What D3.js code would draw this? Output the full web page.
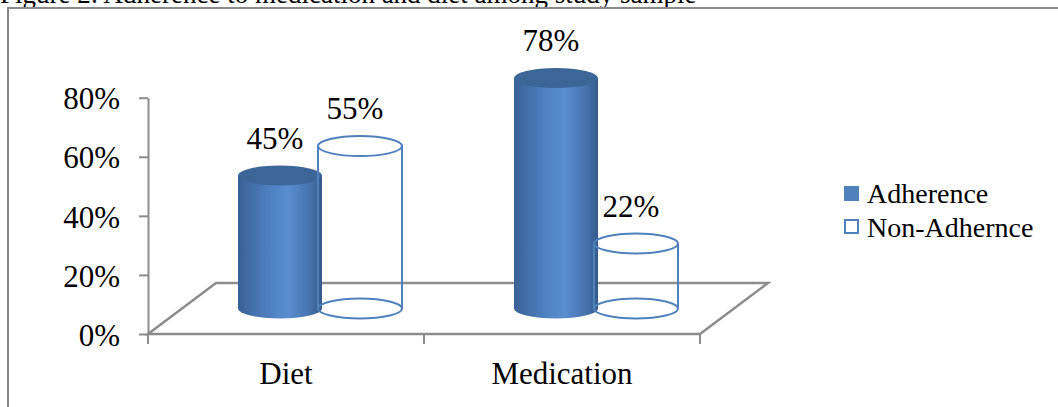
<!DOCTYPE html>
<html><head><meta charset="utf-8">
<script src="https://cdn.jsdelivr.net/npm/d3@7"></script>
<style>
html,body{margin:0;padding:0;background:#fff;overflow:hidden}
svg{display:block}
text{font-family:"Liberation Serif","Times New Roman",serif;fill:#000}
</style></head>
<body>
<svg id="chart" width="1058" height="407"></svg>
<script>
const caption = "Figure 2: Adherence to medication and diet among study sample";
const categories = ["Diet", "Medication"];
const seriesNames = ["Adherence", "Non-Adhernce"];
const adherence = [0.45, 0.78];
const nonAdherence = [0.55, 0.22];
const yTicks = [0, 0.2, 0.4, 0.6, 0.8];

const svg = d3.select("#chart");
const defs = svg.append("defs");
const grad = defs.append("linearGradient").attr("id","cyl").attr("x1","0").attr("x2","1").attr("y1","0").attr("y2","0");
[[0,"#3a6196"],[0.35,"#4d7fbe"],[0.6,"#5a8ed1"],[0.88,"#446fa8"],[1,"#355a8a"]].forEach(([o,c])=>grad.append("stop").attr("offset",o).attr("stop-color",c));

// caption and frame
svg.append("text").attr("x",0).attr("y",3).attr("font-size",27).text(caption);
svg.append("rect").attr("x",8).attr("y",8).attr("width",1200).attr("height",600)
  .attr("fill","none").attr("stroke","#8a8a8a").attr("stroke-width",2);

// geometry
const front = {x0:148, x1:700, y:334};
const depth = {dx:68, dy:-51};
const y = d3.scaleLinear().domain([0,0.8]).range([front.y, 97.7]);
const x = d3.scaleBand().domain(categories).range([front.x0, front.x1]);
const sub = d3.scaleBand().domain(seriesNames).range([-80,80]);
const rx = 42, ry = 10;
const grey = "#8c8c8c";

// floor
const floorPts = [[front.x0,front.y],[front.x0+depth.dx,front.y+depth.dy],[front.x1+depth.dx,front.y+depth.dy],[front.x1,front.y]];
svg.append("path").attr("d", d3.line()(floorPts)+"Z").attr("fill","none").attr("stroke",grey).attr("stroke-width",2.5);

// y axis
const yAxis = d3.axisLeft(y).tickValues(yTicks).tickFormat(d3.format(".0%")).tickSize(9).tickSizeOuter(0).tickPadding(19);
const gy = svg.append("g").attr("transform",`translate(${front.x0},0)`).call(yAxis);
gy.selectAll("path,line").attr("stroke",grey).attr("stroke-width",2);
gy.selectAll("text").attr("font-size",31).attr("font-family","Liberation Serif").attr("fill","#000").attr("dy","0.36em");

// x axis ticks
const bounds = [...categories.map(c=>x(c)), front.x1];
svg.selectAll(".xt").data(bounds).enter().append("line")
  .attr("x1",d=>d).attr("x2",d=>d).attr("y1",front.y).attr("y2",front.y+10)
  .attr("stroke",grey).attr("stroke-width",2);
svg.selectAll(".xl").data(categories).enter().append("text")
  .attr("x",d=>x(d)+x.bandwidth()/2).attr("y",384).attr("text-anchor","middle").attr("font-size",31).text(d=>d);

// cylinders
const mid = {dx:depth.dx/2, dy:depth.dy/2};
const bars = [];
categories.forEach((c,i)=>{
  [adherence[i], nonAdherence[i]].forEach((v,j)=>{
    const cx = x(c)+x.bandwidth()/2 + mid.dx + sub(seriesNames[j]) + sub.bandwidth()/2;
    bars.push({cx, ty:y(v)+mid.dy, by:y(0)+mid.dy, v, j});
  });
});
bars.forEach(b=>{
  const g = svg.append("g");
  if(b.j===0){
    g.append("path").attr("d",
      `M${b.cx-rx},${b.ty} L${b.cx-rx},${b.by} A${rx},${ry} 0 0 0 ${b.cx+rx},${b.by} L${b.cx+rx},${b.ty} Z`)
      .attr("fill","url(#cyl)");
    g.append("ellipse").attr("cx",b.cx).attr("cy",b.ty).attr("rx",rx).attr("ry",ry).attr("fill","#3d6698");
  } else {
    const s = {stroke:"#4f81bd","stroke-width":2,fill:"none"};
    const e1 = g.append("ellipse").attr("cx",b.cx).attr("cy",b.by).attr("rx",rx).attr("ry",ry);
    const l1 = g.append("line").attr("x1",b.cx-rx).attr("x2",b.cx-rx).attr("y1",b.ty).attr("y2",b.by);
    const l2 = g.append("line").attr("x1",b.cx+rx).attr("x2",b.cx+rx).attr("y1",b.ty).attr("y2",b.by);
    const e2 = g.append("ellipse").attr("cx",b.cx).attr("cy",b.ty).attr("rx",rx).attr("ry",ry);
    [e1,l1,l2,e2].forEach(el=>Object.entries(s).forEach(([k,v])=>el.attr(k,v)));
  }
});
// data labels
svg.selectAll(".dl").data(bars).enter().append("text")
  .attr("x",d=>d.cx-5).attr("y",d=>d.ty-ry-17).attr("text-anchor","middle").attr("font-size",31)
  .text(d=>d3.format(".0%")(d.v));

// legend
const lg = svg.append("g").attr("transform","translate(844,186)");
seriesNames.forEach((n,i)=>{
  const r = lg.append("rect").attr("x",i===0?0:1).attr("y",i*33+(i===0?0:1)).attr("width",i===0?15:13).attr("height",i===0?15:13);
  if(i===0) r.attr("fill","#4f81bd"); else r.attr("fill","#fff").attr("stroke","#4f81bd").attr("stroke-width",2);
  lg.append("text").attr("x",23).attr("y",i*34+17).attr("font-size",28).text(n);
});
</script>
</body></html>
